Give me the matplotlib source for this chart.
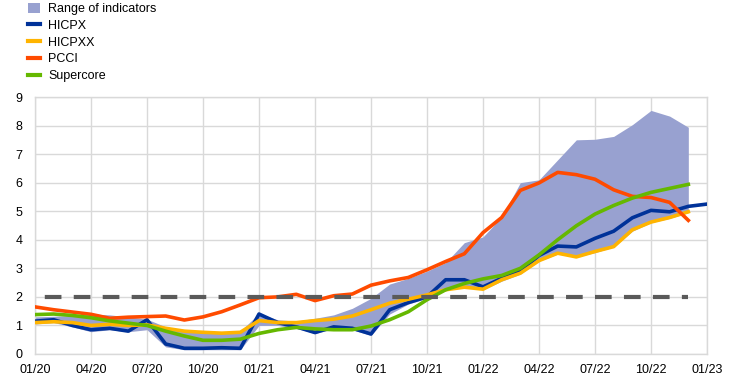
"""Underlying inflation indicators for the euro area, monthly, 01/20 to 01/23."""

import matplotlib

matplotlib.use("Agg")
import matplotlib.pyplot as plt
from matplotlib.lines import Line2D
from matplotlib.patches import Patch
import numpy as np

plt.rcParams["font.family"] = ["Liberation Sans", "DejaVu Sans"]

TICK_LABELS = ["01/20", "04/20", "07/20", "10/20", "01/21", "04/21", "07/21",
               "10/21", "01/22", "04/22", "07/22", "10/22", "01/23"]

# monthly values, 01/20 .. 12/22 (HICPX also has 01/23)
HICPX = [1.15, 1.2, 1.0, 0.85, 0.9, 0.8, 1.2, 0.35, 0.2, 0.2, 0.22, 0.2,
         1.4, 1.1, 0.95, 0.75, 0.95, 0.9, 0.7, 1.55, 1.8, 2.0, 2.6, 2.6,
         2.35, 2.65, 2.9, 3.45, 3.78, 3.75, 4.05, 4.3, 4.77, 5.03, 4.98, 5.17, 5.25]
HICPXX = [1.1, 1.13, 1.1, 1.0, 1.04, 1.0, 1.02, 0.9, 0.8, 0.76, 0.73, 0.76,
          1.17, 1.1, 1.1, 1.17, 1.22, 1.33, 1.55, 1.78, 1.92, 2.07, 2.25, 2.34,
          2.27, 2.6, 2.83, 3.27, 3.53, 3.4, 3.59, 3.76, 4.35, 4.62, 4.78, 4.98]
PCCI = [1.65, 1.55, 1.47, 1.39, 1.25, 1.29, 1.31, 1.33, 1.19, 1.3, 1.48, 1.72,
        1.97, 2.0, 2.09, 1.87, 2.04, 2.1, 2.41, 2.56, 2.68, 2.95, 3.24, 3.51,
        4.25, 4.78, 5.73, 5.99, 6.36, 6.28, 6.12, 5.75, 5.52, 5.48, 5.31, 4.68]
SUPERCORE = [1.38, 1.4, 1.35, 1.27, 1.16, 1.08, 1.0, 0.8, 0.63, 0.48, 0.48, 0.52,
             0.72, 0.85, 0.93, 0.88, 0.85, 0.85, 0.98, 1.2, 1.48, 1.9, 2.25, 2.47,
             2.63, 2.75, 3.0, 3.47, 4.0, 4.49, 4.9, 5.2, 5.46, 5.66, 5.8, 5.94]
RANGE_LOW = [1.05, 1.1, 0.95, 0.78, 0.85, 0.78, 0.85, 0.25, 0.15, 0.15, 0.15, 0.15,
             1.0, 1.0, 0.9, 0.72, 0.88, 0.85, 0.65, 1.4, 1.75, 1.95, 2.3, 2.35,
             2.25, 2.55, 2.8, 3.25, 3.5, 3.4, 3.55, 3.75, 4.3, 4.6, 4.75, 4.95]
RANGE_HIGH = [1.3, 1.32, 1.35, 1.4, 1.37, 1.3, 1.22, 0.95, 0.85, 0.8, 0.78, 0.8,
              1.42, 1.2, 1.15, 1.25, 1.37, 1.6, 1.95, 2.45, 2.65, 2.9, 3.2, 3.9,
              4.1, 4.8, 6.0, 6.1, 6.8, 7.5, 7.52, 7.62, 8.03, 8.53, 8.33, 7.94]
TARGET = 2.0

COLORS = {
    "range": "#98a1d0",
    "HICPX": "#003299",
    "HICPXX": "#ffb400",
    "PCCI": "#ff4b00",
    "Supercore": "#65b800",
    "target": "#5a5a5a",
}


def main() -> None:
    fig = plt.figure(figsize=(7.42, 3.8), dpi=100)
    ax = fig.add_axes([35 / 742, 1 - 354 / 380, 672 / 742, 257 / 380])

    months = np.arange(len(PCCI))
    ax.fill_between(months, RANGE_LOW, RANGE_HIGH, color=COLORS["range"], linewidth=0, zorder=2)
    ax.plot(np.arange(len(HICPX)), HICPX, color=COLORS["HICPX"], linewidth=2.6, zorder=3)
    ax.plot(months, HICPXX, color=COLORS["HICPXX"], linewidth=2.6, zorder=4)
    ax.plot(months, PCCI, color=COLORS["PCCI"], linewidth=2.6, zorder=5)
    ax.plot(months, SUPERCORE, color=COLORS["Supercore"], linewidth=2.6, zorder=6)
    ax.plot(months, np.full(len(months), TARGET), color=COLORS["target"], linewidth=3.0,
            linestyle=(4.6, (4.0, 2.95)), dash_capstyle="butt", zorder=7)

    ax.set_xlim(0, 36)
    ax.set_ylim(0, 9)
    ax.set_xticks(np.arange(0, 37, 3))
    ax.set_xticklabels(TICK_LABELS)
    ax.set_yticks(np.arange(0, 10))
    ax.tick_params(axis="both", length=0, labelsize=9, colors="black")
    ax.tick_params(axis="x", pad=7)
    ax.tick_params(axis="y", pad=9)
    ax.grid(True, color="#d9d9d9", linewidth=1.0, zorder=0)
    ax.set_axisbelow(True)
    for spine in ax.spines.values():
        spine.set_color("#d9d9d9")
        spine.set_linewidth(1.0)

    handles = [
        Patch(facecolor=COLORS["range"], edgecolor="none"),
        Line2D([], [], color=COLORS["HICPX"], linewidth=3),
        Line2D([], [], color=COLORS["HICPXX"], linewidth=3),
        Line2D([], [], color=COLORS["PCCI"], linewidth=3),
        Line2D([], [], color=COLORS["Supercore"], linewidth=3),
    ]
    labels = ["Range of indicators", "HICPX", "HICPXX", "PCCI", "Supercore"]
    fig.legend(handles, labels, loc="upper left", bbox_to_anchor=(28 / 742, 1 - 3.0 / 380), frameon=False,
               fontsize=9, handlelength=0.95, handleheight=0.8, handletextpad=0.65,
               labelspacing=0.37, borderaxespad=0.0, borderpad=0.0)

    fig.savefig("out.png", dpi=100)
    plt.close(fig)


if __name__ == "__main__":
    main()
